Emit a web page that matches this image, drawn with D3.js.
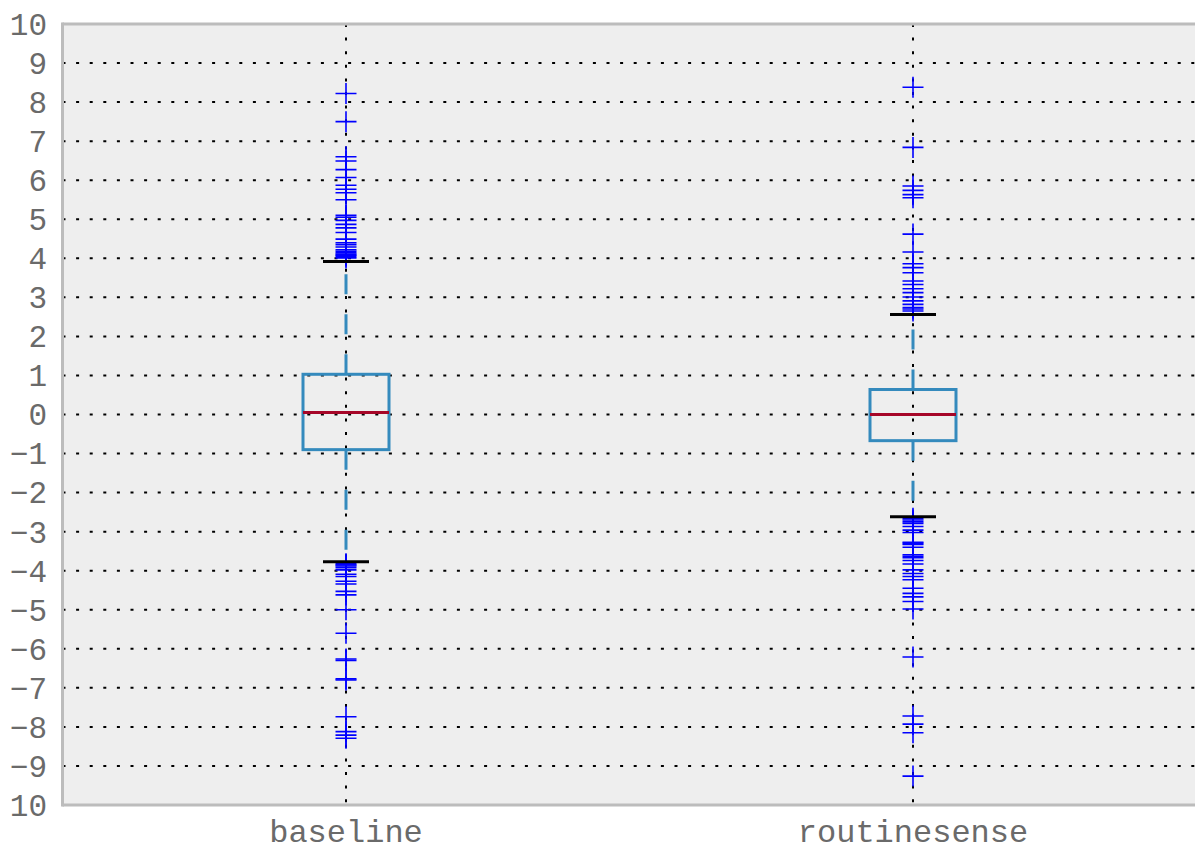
<!DOCTYPE html>
<html>
<head>
<meta charset="utf-8">
<script src="https://cdn.jsdelivr.net/npm/d3@7"></script>
<style>
  body { margin: 0; background: #fff; }
  svg { display: block; }
  text { font-family: "Liberation Mono", "DejaVu Sans Mono", monospace; fill: #6a6a6a; }
</style>
</head>
<body>
<script>
// categories and box stats
var groups = ['baseline', 'routinesense'];
var q1 = [-0.9, -0.67];
var median = [0.05, 0.0];
var q3 = [1.03, 0.64];
var whiskerLow = [-3.77, -2.62];
var whiskerHigh = [3.92, 2.56];

// outliers per group
var fliersBaseline = [8.22, 7.5, 6.6, 6.49, 6.27, 6.07, 5.87, 5.77, 5.68, 5.5, 5.1, 5.05, 4.97, 4.87, 4.78,
  4.66, 4.49, 4.4, 4.35, 4.29, 4.22, 4.18, 4.14, 4.1, 4.08, 4.05, 4.01,
  -3.82, -3.85, -3.88, -3.92, -3.98, -4.09, -4.15, -4.27, -4.34, -4.53, -4.62, -5.0, -5.6, -6.26, -6.3,
  -6.77, -6.8, -7.74, -8.12, -8.21, -8.29];
var fliersRoutine = [8.38, 6.84, 5.85, 5.74, 5.63, 5.55, 4.62, 4.16, 3.86, 3.76, 3.63, 3.42, 3.33, 3.22,
  3.12, 3.01, 2.91, 2.82, 2.74, 2.7, 2.65,
  -2.66, -2.7, -2.75, -2.79, -2.87, -2.96, -3.02, -3.27, -3.3, -3.33, -3.4, -3.59, -3.63, -3.67, -3.74,
  -3.83, -3.98, -4.07, -4.15, -4.23, -4.45, -4.58, -4.67, -4.79, -4.98, -6.21, -7.72, -7.93, -8.15, -9.26];
var fliers = [fliersBaseline, fliersRoutine];

// y tick values and labels (bottom "10" has its minus cut off)
var yTicks = [10, 9, 8, 7, 6, 5, 4, 3, 2, 1, 0, -1, -2, -3, -4, -5, -6, -7, -8, -9, -10];
var yTickLabels = ['10', '9', '8', '7', '6', '5', '4', '3', '2', '1', '0',
  '\u22121', '\u22122', '\u22123', '\u22124', '\u22125', '\u22126', '\u22127', '\u22128', '\u22129', '10'];

var W = 1195, H = 852;
var c = { left: 62.5, right: 1196.5, top: 24, bottom: 805 };

var svg = d3.select('body').append('svg')
  .attr('width', W)
  .attr('height', H);

var x = d3.scaleLinear().domain([0.5, 2.5]).range([c.left, c.right]);
var y = d3.scaleLinear().domain([-10, 10]).range([c.bottom, c.top]);

//background
svg.append('rect')
  .attr('x', c.left).attr('y', c.top)
  .attr('width', c.right - c.left).attr('height', c.bottom - c.top)
  .style('fill', '#eeeeee');

//grid
var grid = svg.append('g').attr('class', 'grid');
grid.selectAll('.hgrid')
  .data(yTicks.filter(function(d) { return d > -10 && d < 10; }))
  .enter().append('line')
  .attr('x1', c.left).attr('x2', c.right)
  .attr('y1', function(d) { return y(d); }).attr('y2', function(d) { return y(d); })
  .style('stroke', '#000').style('stroke-width', 2)
  .style('stroke-dasharray', '3,10.6');
grid.selectAll('.vgrid')
  .data(groups)
  .enter().append('line')
  .attr('x1', function(d, i) { return x(i + 1); }).attr('x2', function(d, i) { return x(i + 1); })
  .attr('y1', c.top).attr('y2', c.bottom)
  .style('stroke', '#000').style('stroke-width', 2)
  .style('stroke-dasharray', '3,10.6');

//frame
svg.append('line')
  .attr('x1', c.left).attr('x2', c.left).attr('y1', c.top - 1.5).attr('y2', c.bottom + 1.5)
  .style('stroke', '#bcbcbc').style('stroke-width', 3);
svg.append('line')
  .attr('x1', c.left).attr('x2', c.right).attr('y1', c.top).attr('y2', c.top)
  .style('stroke', '#bcbcbc').style('stroke-width', 3);
svg.append('line')
  .attr('x1', c.left).attr('x2', c.right).attr('y1', c.bottom).attr('y2', c.bottom)
  .style('stroke', '#bcbcbc').style('stroke-width', 3);

//y labels
svg.selectAll('.ylab')
  .data(yTicks)
  .enter().append('text')
  .attr('x', 47)
  .attr('y', function(d) { return y(d); })
  .attr('dy', '0.35em')
  .attr('text-anchor', 'end')
  .style('font-size', '31px')
  .text(function(d, i) { return yTickLabels[i]; });

//x labels
svg.selectAll('.xlab')
  .data(groups)
  .enter().append('text')
  .attr('x', function(d, i) { return x(i + 1); })
  .attr('y', 842)
  .attr('text-anchor', 'middle')
  .style('font-size', '32px')
  .text(function(d) { return d; });

//boxes
var boxW = 86, capW = 46;
var boxes = svg.selectAll('.box')
  .data(groups)
  .enter().append('g')
  .attr('class', 'box')
  .attr('transform', function(d, i) { return 'translate(' + x(i + 1) + ',0)'; });

boxes.append('line')
  .attr('x1', 0).attr('x2', 0)
  .attr('y1', function(d, i) { return y(q3[i]); })
  .attr('y2', function(d, i) { return y(whiskerHigh[i]); })
  .style('stroke', '#348ABD').style('stroke-width', 3)
  .style('stroke-dasharray', '20,20');
boxes.append('line')
  .attr('x1', 0).attr('x2', 0)
  .attr('y1', function(d, i) { return y(q1[i]); })
  .attr('y2', function(d, i) { return y(whiskerLow[i]); })
  .style('stroke', '#348ABD').style('stroke-width', 3)
  .style('stroke-dasharray', '20,20');

boxes.append('rect')
  .attr('x', -boxW / 2)
  .attr('width', boxW)
  .attr('y', function(d, i) { return y(q3[i]); })
  .attr('height', function(d, i) { return y(q1[i]) - y(q3[i]); })
  .style('fill', 'none')
  .style('stroke', '#348ABD').style('stroke-width', 3);

boxes.append('line')
  .attr('x1', -boxW / 2).attr('x2', boxW / 2)
  .attr('y1', function(d, i) { return y(median[i]); })
  .attr('y2', function(d, i) { return y(median[i]); })
  .style('stroke', '#A60628').style('stroke-width', 3);

//fliers
boxes.each(function(d, i) {
  d3.select(this).selectAll('.flier')
    .data(fliers[i])
    .enter().append('path')
    .attr('class', 'flier')
    .attr('transform', function(v) { return 'translate(0,' + y(v) + ')'; })
    .attr('d', 'M-10.5,0H10.5M0,-10.5V10.5')
    .style('fill', 'none')
    .style('stroke', '#0000ff').style('stroke-width', 1.6);
});

//caps
boxes.selectAll('.cap')
  .data(function(d, i) { return [whiskerLow[i], whiskerHigh[i]]; })
  .enter().append('line')
  .attr('x1', -capW / 2).attr('x2', capW / 2)
  .attr('y1', function(v) { return y(v); })
  .attr('y2', function(v) { return y(v); })
  .style('stroke', '#000').style('stroke-width', 3);
</script>
</body>
</html>
